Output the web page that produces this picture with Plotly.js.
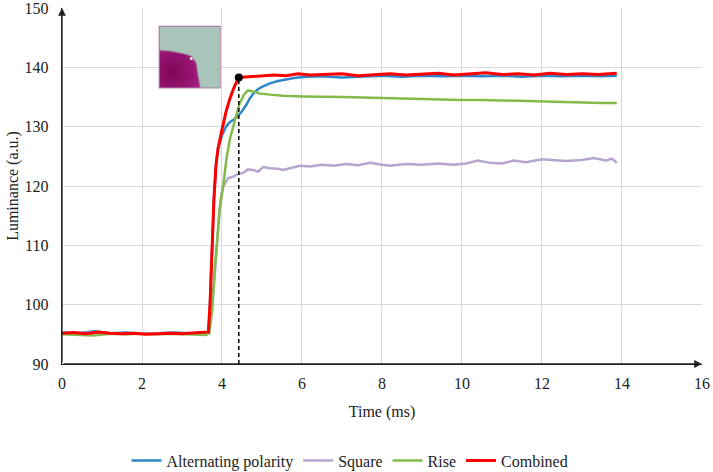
<!DOCTYPE html>
<html>
<head>
<meta charset="utf-8">
<script src="https://cdn.plot.ly/plotly-3.1.2.min.js"></script>
<style>
  body { margin: 0; background: #fff; }
  #chart { width: 713px; height: 472px; }
</style>
</head>
<body>
<div id="chart"></div>
<script>
// Alternating polarity (blue)
const altTime = [0, 0.4, 0.8, 1.2, 1.6, 2.0, 2.4, 2.8, 3.2, 3.6, 3.66, 3.70, 3.75, 3.80, 3.85, 3.90, 4.0, 4.1, 4.2, 4.3, 4.4, 4.5, 4.6, 4.7, 4.8, 4.9, 5.0, 5.2, 5.4, 5.6, 5.8, 6.1, 6.5, 7.0, 7.5, 8.0, 8.5, 9.0, 9.5, 10.0, 10.5, 11.0, 11.5, 12.0, 12.5, 13.0, 13.5, 13.87];
const altLum = [95.3, 95.2, 95.5, 95.2, 95.3, 95.1, 95.2, 95.3, 95.2, 95.3, 95.4, 100, 110, 118, 123.5, 126.3, 128.5, 130.0, 130.8, 131.2, 131.8, 132.6, 133.6, 134.8, 135.7, 136.3, 136.7, 137.3, 137.7, 138.0, 138.2, 138.4, 138.5, 138.3, 138.5, 138.6, 138.4, 138.6, 138.5, 138.6, 138.5, 138.6, 138.4, 138.6, 138.5, 138.6, 138.5, 138.6];

// Square (purple)
const sqTime = [0, 0.4, 0.8, 1.2, 1.6, 2.0, 2.4, 2.8, 3.2, 3.6, 3.68, 3.75, 3.82, 3.88, 3.94, 3.98, 4.03, 4.1, 4.15, 4.28, 4.4, 4.53, 4.65, 4.78, 4.9, 5.03, 5.2, 5.4, 5.53, 5.7, 5.94, 6.2, 6.5, 6.8, 7.1, 7.4, 7.7, 8.0, 8.2, 8.6, 9.0, 9.4, 9.8, 10.1, 10.4, 10.7, 11.0, 11.3, 11.6, 12.0, 12.3, 12.6, 13.0, 13.3, 13.6, 13.75, 13.87];
const sqLum = [95.1, 95.2, 95.3, 95.1, 95.2, 95.1, 95.2, 95.1, 95.2, 95.1, 95.2, 99, 106, 110.4, 116, 118.5, 119.9, 120.8, 121.3, 121.6, 122.0, 122.2, 122.8, 122.7, 122.4, 123.2, 123.0, 122.9, 122.7, 123.0, 123.4, 123.3, 123.6, 123.4, 123.7, 123.5, 123.9, 123.6, 123.4, 123.7, 123.6, 123.8, 123.6, 123.8, 124.3, 123.9, 123.8, 124.3, 124.0, 124.5, 124.3, 124.2, 124.4, 124.7, 124.3, 124.6, 123.9];

// Rise (green)
const riseTime = [0, 0.4, 0.8, 1.2, 1.6, 2.0, 2.4, 2.8, 3.2, 3.6, 3.68, 3.75, 3.82, 3.88, 3.94, 4.03, 4.11, 4.2, 4.28, 4.36, 4.44, 4.55, 4.65, 4.8, 4.94, 5.2, 5.53, 6.0, 6.5, 7.0, 7.5, 8.0, 8.5, 9.0, 9.5, 10.0, 10.5, 11.0, 11.5, 12.0, 12.5, 13.0, 13.5, 13.87];
const riseLum = [95.0, 94.9, 94.8, 95.1, 95.0, 95.1, 95.0, 95.1, 95.0, 94.9, 95.2, 99, 106, 110.4, 116, 120, 124.5, 128, 130, 132, 133.9, 135.4, 136.1, 135.9, 135.6, 135.4, 135.2, 135.1, 135.1, 135.0, 134.9, 134.8, 134.8, 134.7, 134.6, 134.5, 134.5, 134.4, 134.3, 134.3, 134.2, 134.1, 134.0, 134.0];

// Combined (red)
const combTime = [0, 0.3, 0.6, 0.9, 1.2, 1.5, 1.8, 2.1, 2.4, 2.7, 3.0, 3.3, 3.6, 3.66, 3.70, 3.75, 3.80, 3.85, 3.90, 4.0, 4.1, 4.2, 4.3, 4.42, 4.6, 4.8, 5.0, 5.3, 5.6, 5.9, 6.2, 6.6, 7.0, 7.4, 7.8, 8.2, 8.6, 9.0, 9.4, 9.8, 10.2, 10.6, 11.0, 11.4, 11.8, 12.2, 12.6, 13.0, 13.4, 13.87];
const combLum = [95.2, 95.3, 95.1, 95.4, 95.2, 95.1, 95.2, 95.0, 95.1, 95.2, 95.1, 95.2, 95.3, 95.4, 100, 110, 118, 123.5, 126.3, 129.5, 132.5, 134.8, 136.6, 138.3, 138.4, 138.5, 138.5, 138.7, 138.6, 138.9, 138.7, 138.8, 138.9, 138.6, 138.8, 138.9, 138.7, 138.8, 139.0, 138.7, 138.9, 139.1, 138.8, 138.9, 138.7, 139.0, 138.8, 138.9, 138.8, 139.0];

// Marked point on the combined curve
const markTime = [4.42];
const markLum = [138.3];

const xTicks = [0, 2, 4, 6, 8, 10, 12, 14, 16];
const yTicks = [90, 100, 110, 120, 130, 140, 150];

const font = "Liberation Serif";

// little photo inset, painted on a canvas
function makeInset() {
  const c = document.createElement("canvas");
  c.width = 124; c.height = 124;
  const g = c.getContext("2d");
  g.scale(2, 2);
  g.fillStyle = "#a9c4b9";
  g.fillRect(0, 0, 62, 62);
  g.filter = "blur(1.2px)";
  const grad = g.createRadialGradient(14, 46, 2, 14, 46, 34);
  grad.addColorStop(0, "#80095a");
  grad.addColorStop(0.6, "#9a1574");
  grad.addColorStop(1, "#ad2d8c");
  g.fillStyle = grad;
  g.beginPath();
  g.moveTo(-4, 24);
  g.lineTo(11, 25);
  g.lineTo(24, 27.5);
  g.lineTo(33, 30);
  g.lineTo(37.5, 37);
  g.lineTo(39, 48);
  g.lineTo(41, 58);
  g.lineTo(42, 66);
  g.lineTo(-4, 66);
  g.closePath();
  g.fill();
  g.filter = "none";
  g.fillStyle = "#e6e6dc";
  g.beginPath();
  g.arc(32.5, 32.5, 1.5, 0, Math.PI * 2);
  g.fill();
  g.strokeStyle = "#b07aa8";
  g.lineWidth = 1;
  g.strokeRect(0.5, 0.5, 61, 61);
  return c.toDataURL();
}

const traces = [
  { x: altTime, y: altLum, name: "Alternating polarity", mode: "lines",
    line: { color: "#2c86c9", width: 2.5 } },
  { x: sqTime, y: sqLum, name: "Square", mode: "lines",
    line: { color: "#b7a4cf", width: 2.5 } },
  { x: riseTime, y: riseLum, name: "Rise", mode: "lines",
    line: { color: "#82bb4a", width: 2.5 } },
  { x: combTime, y: combLum, name: "Combined", mode: "lines",
    line: { color: "#ff0000", width: 3 } },
  // dashed drop line from the marked point to the time axis
  { x: [markTime[0], markTime[0]], y: [90, markLum[0]], mode: "lines", showlegend: false,
    line: { color: "#000", width: 1.5, dash: "4px,3px" }, cliponaxis: false },
  { x: markTime, y: markLum, mode: "markers", showlegend: false,
    marker: { color: "#000", size: 8 }, cliponaxis: false },
];

const layout = {
  width: 713,
  height: 472,
  margin: { l: 62, r: 11, t: 8, b: 108, autoexpand: false },
  paper_bgcolor: "#fff",
  plot_bgcolor: "#fff",
  font: { family: font, size: 16, color: "#222" },
  showlegend: true,
  legend: {
    orientation: "h", x: 0.45, xanchor: "center",
    yref: "container", y: 0.024, yanchor: "middle",
    font: { family: font, size: 16, color: "#222" }, itemwidth: 30,
  },
  xaxis: {
    range: [0, 16.001], tickmode: "array", tickvals: xTicks, ticktext: xTicks.map(String),
    showgrid: true, gridcolor: "#d9d9d9", gridwidth: 1,
    zeroline: false, showline: true, linecolor: "#222", linewidth: 1.3,
    ticks: "", ticklabelstandoff: 4, automargin: false, ticklabeloverflow: "allow",
    tickfont: { family: font, size: 16 },
    title: { text: "Time (ms)", font: { family: font, size: 16 }, standoff: 15 },
  },
  yaxis: {
    range: [90, 150.001], tickmode: "array", tickvals: yTicks, ticktext: yTicks.map(String),
    showgrid: true, gridcolor: "#d9d9d9", gridwidth: 1,
    zeroline: false, showline: true, linecolor: "#222", linewidth: 1.3,
    ticks: "", ticklabelstandoff: 9, automargin: false, ticklabeloverflow: "allow",
    tickfont: { family: font, size: 16 },
    title: { text: "Luminance (a.u.)", font: { family: font, size: 16 }, standoff: 2 },
  },
  annotations: [
    { x: 0, y: 150, ax: 0, ay: 90, xref: "x", yref: "y", axref: "x", ayref: "y",
      showarrow: true, arrowhead: 2, arrowsize: 1.2, arrowwidth: 1.3, arrowcolor: "#222", text: "" },
    { x: 16, y: 90, ax: 0, ay: 90, xref: "x", yref: "y", axref: "x", ayref: "y",
      showarrow: true, arrowhead: 2, arrowsize: 1.2, arrowwidth: 1.3, arrowcolor: "#222", text: "" },
  ],
  images: [
    { source: makeInset(), xref: "paper", yref: "paper", x: 0.151, y: 0.95,
      sizex: 0.097, sizey: 0.176, sizing: "stretch", xanchor: "left", yanchor: "top", layer: "above" },
  ],
};

Plotly.newPlot("chart", traces, layout, { displayModeBar: false, staticPlot: true });
</script>
</body>
</html>
